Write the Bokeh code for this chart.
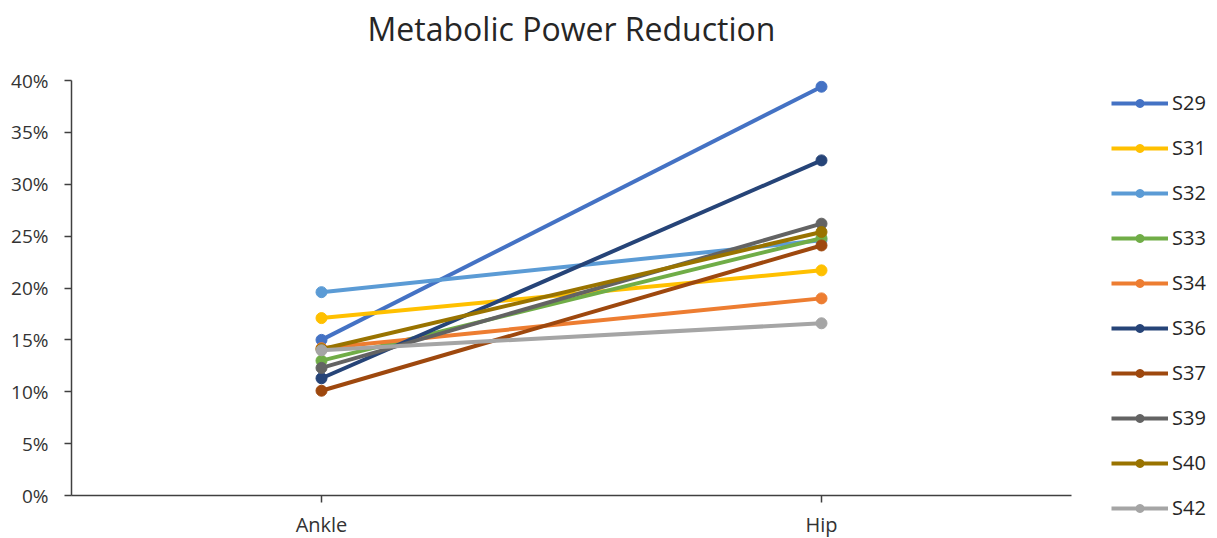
from bokeh.plotting import figure
from bokeh.models import FactorRange, Range1d, Legend, LegendItem, NumeralTickFormatter, FixedTicker
from bokeh.embed import file_html
from bokeh.resources import INLINE

joints = ["Ankle", "Hip"]
subjects = ["S29", "S31", "S32", "S33", "S34", "S36", "S37", "S39", "S40", "S42"]
ankle = [0.150, 0.171, 0.196, 0.130, 0.142, 0.113, 0.101, 0.123, 0.141, 0.140]
hip = [0.394, 0.217, 0.246, 0.248, 0.190, 0.323, 0.241, 0.262, 0.254, 0.166]
colors = ["#4472C4", "#FFC000", "#5B9BD5", "#70AD47", "#ED7D31",
          "#264478", "#9E480E", "#636363", "#997300", "#A5A5A5"]
y_ticks = [0, 0.05, 0.10, 0.15, 0.20, 0.25, 0.30, 0.35, 0.40]

p = figure(frame_width=1000, frame_height=415, output_backend="svg", toolbar_location=None,
           x_range=FactorRange(*joints, range_padding=0), y_range=Range1d(0, 0.40),
           title="Metabolic Power Reduction\n",
           min_border_left=71, min_border_right=146, min_border_top=80, min_border_bottom=43)
p.outline_line_color = None
p.xgrid.grid_line_color = None
p.ygrid.grid_line_color = None
p.background_fill_color = "white"
p.border_fill_color = "white"

p.title.align = "center"
p.title.vertical_align = "bottom"
p.title.text_font = "Open Sans"
p.title.text_font_size = "32px"
p.title.text_font_style = "normal"
p.title.text_color = "#262626"
p.title.text_line_height = 0.7
p.title.standoff = 0

p.yaxis.ticker = FixedTicker(ticks=y_ticks)
p.yaxis.formatter = NumeralTickFormatter(format="0%")
for ax in (p.xaxis[0], p.yaxis[0]):
    ax.axis_line_color = "#404040"
    ax.axis_line_width = 1.5
    ax.major_tick_line_color = "#404040"
    ax.major_tick_line_width = 1.5
    ax.major_tick_out = 7
    ax.major_tick_in = 0
    ax.minor_tick_line_color = None
    ax.major_label_text_font = "Open Sans"
    ax.major_label_text_color = "#333333"
p.yaxis.major_label_text_font_size = "19px"
p.xaxis.major_label_text_font_size = "20px"
p.yaxis.major_label_standoff = 16
p.xaxis.major_label_standoff = 8

items = []
for name, a, h, c in zip(subjects, ankle, hip, colors):
    ln = p.line(joints, [a, h], line_color=c, line_width=4)
    sc = p.scatter(joints, [a, h], size=11, fill_color=c, line_color=c)
    items.append(LegendItem(label=name, renderers=[ln, sc]))

legend = Legend(items=items, location=(40, -26), glyph_width=57, glyph_height=20,
                label_height=20, spacing=18, label_standoff=4, padding=0, margin=0,
                border_line_color=None, background_fill_alpha=0,
                label_text_font="Open Sans", label_text_font_size="20px",
                label_text_color="#262626")
p.add_layout(legend, "right")

open("out.html", "w").write(file_html(p, INLINE))
